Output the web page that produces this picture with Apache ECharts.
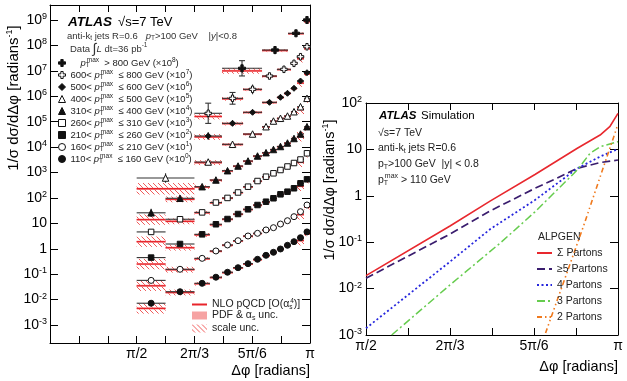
<!DOCTYPE html>
<html>
<head>
<meta charset="utf-8">
<script src="https://cdn.jsdelivr.net/npm/echarts@6.0.0/dist/echarts.min.js"></script>
<style>
html,body{margin:0;padding:0;background:#fff;}
#chart{width:627px;height:381px;}
</style>
</head>
<body>
<div id="chart"></div>
<script>
const FONT = '"Liberation Sans", Arial, Helvetica, sans-serif';

// ================= LEFT PANEL: ATLAS data vs NLO pQCD =================
// Δφ bin edges [radians]
const edgesFine = [1.5708, 1.8326, 2.0944, 2.234, 2.344, 2.444, 2.535, 2.625, 2.707, 2.779, 2.842, 2.906, 2.969, 3.024, 3.087, 3.1416];
const edges400  = [1.5708, 2.0944, 2.344, 2.535, 2.707, 2.779, 2.842, 2.906, 2.969, 3.024, 3.087, 3.1416];
const edges500  = [2.0944, 2.344, 2.535, 2.707, 2.842, 2.906, 2.969, 3.024, 3.087, 3.1416];
const edges600  = [2.0944, 2.344, 2.535, 2.707, 2.842, 2.969, 3.024, 3.087, 3.1416];
const edges800  = [2.344, 2.707, 2.942, 3.087, 3.1416];

// pT^max ranges [GeV] and plotting factors (legend)
const ptLow    = [800, 600, 500, 400, 310, 260, 210, 160, 110];
const ptHigh   = [null, 800, 600, 500, 400, 310, 260, 210, 160];
const scalePow = [8, 7, 6, 5, 4, 3, 2, 1, 0];

// measured 1/σ dσ/dΔφ, already multiplied by 10^scalePow
const data800 = [1.26e7, 6.6e7, 3.0e8, 1.0e9];
const data600 = [2.14e5, 8.3e5, 1.88e6, 6.27e6, 1.15e7, 1.98e7, 3.6e7, 8.9e7];
const data500 = [2.73e4, 8.63e4, 2.34e5, 5.78e5, 9.1e5, 1.31e6, 2.06e6, 3.98e6, 8.45e6];
const data400 = [608, 2590, 12900, 32700, 63500, 106000, 136000, 167000, 247000, 388000, 832000];
const data310 = [26, 97, 277, 508, 1180, 1800, 2840, 4470, 6030, 8050, 10570, 14500, 21800, 32700, 63500];
const data260 = [4.6, 14.5, 27, 66, 100, 164, 277, 463, 685, 931, 1256, 1726, 2368, 3250, 5700];
const data210 = [0.45, 1.54, 3.7, 9.2, 14.8, 23.3, 35.7, 52.7, 71, 97, 139, 176, 240, 377, 541];
const data160 = [0.057, 0.156, 0.42, 0.82, 1.41, 2.08, 3.18, 4.06, 5.5, 6.75, 9.4, 12.7, 18.3, 28.8, 52.7];
const data110 = [0.0072, 0.0204, 0.0437, 0.076, 0.119, 0.18, 0.259, 0.385, 0.553, 0.726, 0.98, 1.37, 1.9, 2.73, 4.6];

// relative data uncertainty (error bar)
const err800 = [1.0, 0.45, 0.15, 0.08];
const err600 = [1.5, 0.7, 0.55, 0.2, 0.12, 0.1, 0.08, 0.06];
const err500 = [0.45, 0.3, 0.2, 0.1, 0.08, 0.06, 0.05, 0.05, 0.05];
const err400 = [0.55, 0.15, 0.1, 0.08, 0.06, 0.05, 0.05, 0.05, 0.05, 0.05, 0.05];
const err310 = [0.45, 0.15, 0.1, 0.06, 0.05, 0.05, 0.05, 0.05, 0.05, 0.05, 0.05, 0.05, 0.05, 0.05, 0.05];
const errFine = [0.12, 0.06, 0.05, 0.04, 0.04, 0.04, 0.04, 0.04, 0.04, 0.04, 0.04, 0.04, 0.04, 0.04, 0.04];

// NLO pQCD O(αs^4) prediction, same factors
const nlo800 = [1.0e7, 6.3e7, 2.9e8, 8.6e8];
const nlo600 = [1.6e5, 7.9e5, 1.84e6, 6.1e6, 1.12e7, 1.94e7, 3.0e7, 7.8e7];
const nlo500 = [2.5e4, 8.4e4, 2.3e5, 5.65e5, 8.95e5, 1.29e6, 2.0e6, 3.3e6, 7.5e6];
const nlo400 = [230, 2450, 12600, 32000, 62000, 104000, 133000, 164000, 240000, 300000, 700000];
const nlo310 = [14, 88, 268, 495, 1150, 1760, 2780, 4380, 5900, 7900, 10400, 14200, 21300, 26000, 55000];
const nlo260 = [1.9, 12, 26, 64, 97, 160, 270, 452, 670, 910, 1230, 1690, 2310, 2550, 4900];
const nlo210 = [0.25, 1.1, 3.5, 8.8, 14.3, 22.6, 34.8, 51.5, 69, 95, 135, 171, 232, 290, 470];
const nlo160 = [0.035, 0.15, 0.4, 0.79, 1.37, 2.02, 3.1, 3.95, 5.35, 6.6, 9.1, 12.3, 17.6, 22, 44];
const nlo110 = [0.0045, 0.019, 0.042, 0.073, 0.115, 0.175, 0.25, 0.37, 0.53, 0.71, 0.95, 1.32, 1.8, 2.1, 3.9];

// relative scale uncertainty (hatched) and PDF & αs uncertainty (solid)
const scale800 = [0.3, 0.15, 0.12, 0.2];
const scale600 = [0.3, 0.18, 0.15, 0.12, 0.1, 0.12, 0.4, 0.2];
const scale500 = [0.3, 0.18, 0.15, 0.12, 0.1, 0.1, 0.12, 0.4, 0.2];
const scale400 = [0.7, 0.25, 0.15, 0.12, 0.1, 0.1, 0.1, 0.1, 0.12, 0.5, 0.25];
const scaleFine = [0.6, 0.3, 0.18, 0.14, 0.12, 0.1, 0.1, 0.1, 0.1, 0.1, 0.1, 0.12, 0.2, 0.55, 0.25];
const pdfUnc = [0.1, 0.1, 0.1, 0.1, 0.1, 0.1, 0.1, 0.1, 0.1];

// axis tick labels
const xTickSteps = [6, 8, 10, 12];            // in units of π/12
const xTickText  = ['π/2', '2π/3', '5π/6', 'π'];

// ================= RIGHT PANEL: ALPGEN simulation =================
const dphiSum = [1.5708, 2.0944, 2.344, 2.624, 2.888, 3.03, 3.092, 3.1416];
const valSum  = [0.019, 0.224, 0.77, 2.88, 10.6, 20.4, 31.5, 60];
const dphiGe5 = [1.5708, 2.0944, 2.344, 2.624, 2.76, 2.888, 3.03, 3.1416];
const valGe5  = [0.0167, 0.15, 0.47, 1.45, 2.38, 3.92, 5.2, 5.9];
const dphi4   = [1.5708, 2.0944, 2.344, 2.624, 2.888, 3.03, 3.1416];
const val4    = [0.0014, 0.038, 0.19, 0.81, 3.9, 7.0, 10.2];
const dphi3   = [1.731, 2.0944, 2.406, 2.624, 2.888, 2.967, 3.03, 3.1416];
const val3    = [0.001, 0.012, 0.095, 0.45, 3.6, 8.2, 11.4, 14.7];
const dphi2   = [2.69, 2.926, 3.1416];
const val2    = [0.0011, 0.22, 35];
const partonNames = ['Σ Partons', '≥5 Partons', '4 Partons', '3 Partons', '2 Partons'];

// ================= build =================
const P12 = Math.PI / 12;
const groups = [
  {e: edges800, v: data800, n: nlo800, s: scale800, r: err800},
  {e: edges600, v: data600, n: nlo600, s: scale600, r: err600},
  {e: edges500, v: data500, n: nlo500, s: scale500, r: err500},
  {e: edges400, v: data400, n: nlo400, s: scale400, r: err400},
  {e: edgesFine, v: data310, n: nlo310, s: scaleFine, r: err310},
  {e: edgesFine, v: data260, n: nlo260, s: scaleFine, r: errFine},
  {e: edgesFine, v: data210, n: nlo210, s: scaleFine, r: errFine},
  {e: edgesFine, v: data160, n: nlo160, s: scaleFine, r: errFine},
  {e: edgesFine, v: data110, n: nlo110, s: scaleFine, r: errFine}
];
const scaleRows = [], pdfRows = [], nloRows = [], barRows = [];
const markerData = groups.map((g, gi) => {
  const pts = [];
  for (let i = 0; i < g.v.length; i++) {
    const x0 = g.e[i], x1 = g.e[i + 1], n = g.n[i], v = g.v[i];
    scaleRows.push([x0, x1, n / (1 + g.s[i]), n * (1 + g.s[i])]);
    pdfRows.push([x0, x1, n / (1 + pdfUnc[gi]), n * (1 + pdfUnc[gi])]);
    nloRows.push([x0, x1, n]);
    barRows.push([x0, x1, v, v / (1 + g.r[i]), v * (1 + g.r[i])]);
    pts.push([(x0 + x1) / 2, v]);
  }
  return pts;
});
const groupNames = ptLow.map(lo => 'g' + lo);
const legendText = ptLow.map((lo, i) => {
  const hi = ptHigh[i];
  if (hi === null) return '{pad|}{i|p}{sub|T}{sup|max}{t|  > ' + lo + ' GeV (×10}{sup|' + scalePow[i] + '}{t|)}';
  return '{t|' + lo + '< }{i|p}{sub|T}{sup|max}{t|  ≤ ' + hi + ' GeV (×10}{sup|' + scalePow[i] + '}{t|)}';
});

// hatch pattern for scale uncertainty
function makeHatch() {
  const c = document.createElement('canvas');
  c.width = 5; c.height = 5;
  const ctx = c.getContext('2d');
  ctx.strokeStyle = '#f05a5a'; ctx.lineWidth = 1;
  ctx.beginPath();
  ctx.moveTo(-1, -1); ctx.lineTo(6, 6);
  ctx.moveTo(-1, 4); ctx.lineTo(1, 6);
  ctx.moveTo(4, -1); ctx.lineTo(6, 1);
  ctx.stroke();
  return c;
}
const hatch = {image: makeHatch(), repeat: 'repeat'};
const RED = '#e8242b', PINK = '#f6a3a3';

function rectRender(fill) {
  return function (params, api) {
    const a = api.coord([api.value(0), api.value(3)]);
    const b = api.coord([api.value(1), api.value(2)]);
    return {type: 'rect', shape: {x: a[0], y: a[1], width: b[0] - a[0], height: b[1] - a[1]}, style: {fill: fill}};
  };
}
function nloRender(params, api) {
  const a = api.coord([api.value(0), api.value(2)]);
  const b = api.coord([api.value(1), api.value(2)]);
  return {type: 'line', shape: {x1: a[0], y1: a[1], x2: b[0], y2: b[1]}, style: {stroke: RED, lineWidth: 1.3}};
}
function barRender(params, api) {
  const x0 = api.value(0), x1 = api.value(1), v = api.value(2);
  const a = api.coord([x0, v]), b = api.coord([x1, v]);
  const xc = (a[0] + b[0]) / 2;
  const lo = api.coord([(x0 + x1) / 2, api.value(3)]);
  const hi = api.coord([(x0 + x1) / 2, api.value(4)]);
  const st = {stroke: '#333', lineWidth: 1.1};
  const ch = [
    {type: 'line', shape: {x1: a[0], y1: a[1], x2: b[0], y2: b[1]}, style: st},
    {type: 'line', shape: {x1: xc, y1: lo[1], x2: xc, y2: hi[1]}, style: st}
  ];
  if (lo[1] - hi[1] > 10) {
    ch.push({type: 'line', shape: {x1: xc - 3, y1: lo[1], x2: xc + 3, y2: lo[1]}, style: st});
    ch.push({type: 'line', shape: {x1: xc - 3, y1: hi[1], x2: xc + 3, y2: hi[1]}, style: st});
  }
  return {type: 'group', children: ch};
}

const PLUS = 'path://M-1,-3L1,-3L1,-1L3,-1L3,1L1,1L1,3L-1,3L-1,1L-3,1L-3,-1L-1,-1Z';
const markerStyle = [
  {symbol: PLUS, size: 7, fill: '#111'},
  {symbol: PLUS, size: 6.5, fill: '#fff'},
  {symbol: 'diamond', size: 6, fill: '#111'},
  {symbol: 'triangle', size: 6.5, fill: '#fff'},
  {symbol: 'triangle', size: 6.5, fill: '#111'},
  {symbol: 'rect', size: 5.5, fill: '#fff'},
  {symbol: 'rect', size: 5.5, fill: '#111'},
  {symbol: 'circle', size: 6, fill: '#fff'},
  {symbol: 'circle', size: 6, fill: '#111'}
];

function xLabel(v) {
  const k = Math.round(v / P12);
  if (Math.abs(v - k * P12) > 1e-6) return '';
  const j = xTickSteps.indexOf(k);
  return j < 0 ? '' : xTickText[j];
}
function decadeLabel(n) {
  if (n === 0) return '{b|1}';
  if (n === 1) return '{b|10}';
  return '{b|10}{s|' + n + '}';
}
const axisRich = {
  b: {fontSize: 14, fontFamily: FONT, color: '#000', lineHeight: 16},
  s: {fontSize: 9, fontFamily: FONT, color: '#000', verticalAlign: 'top', lineHeight: 9}
};
const LINE = {show: true, onZero: false, lineStyle: {color: '#000', width: 1}};

const leftYMin = 1.96e-4, leftYMax = 3.9e9;

function xAxisCfg(grid, min, pos, labels) {
  return {
    type: 'value', gridIndex: grid, min: min, max: Math.PI, interval: P12, position: pos,
    axisLine: LINE, splitLine: {show: false},
    axisTick: {show: true, inside: true, length: 7, lineStyle: {color: '#000'}},
    axisLabel: {show: labels, margin: 4, formatter: xLabel, fontSize: 14, fontFamily: FONT, color: '#000',
      showMinLabel: true, showMaxLabel: true}
  };
}

const series = [
  {type: 'custom', name: 'scale unc.', xAxisIndex: 0, yAxisIndex: 0, renderItem: rectRender(hatch), data: scaleRows, encode: {x: [0, 1], y: [2, 3]}, z: 2, silent: true},
  {type: 'custom', name: 'PDF & αs unc.', xAxisIndex: 0, yAxisIndex: 0, renderItem: rectRender(PINK), data: pdfRows, encode: {x: [0, 1], y: [2, 3]}, z: 2, silent: true},
  {type: 'custom', name: 'NLO pQCD', xAxisIndex: 0, yAxisIndex: 0, renderItem: nloRender, data: nloRows, encode: {x: [0, 1], y: [2]}, z: 3, silent: true},
  {type: 'custom', name: 'data bars', xAxisIndex: 0, yAxisIndex: 0, renderItem: barRender, data: barRows, encode: {x: [0, 1], y: [2, 3, 4]}, z: 4, silent: true}
];
groupNames.forEach((nm, i) => {
  const m = markerStyle[i];
  series.push({
    type: 'scatter', name: nm, xAxisIndex: 0, yAxisIndex: 0, data: markerData[i],
    symbol: m.symbol, symbolSize: m.size, z: 5, silent: true,
    itemStyle: {color: m.fill, borderColor: '#111', borderWidth: 1, opacity: 1}
  });
});
const partonStyles = [
  {color: '#e8282e', type: 'solid', width: 1.6},
  {color: '#3a1d6e', type: [8, 4], width: 1.7},
  {color: '#2626dd', type: [2, 2.5], width: 1.8},
  {color: '#66cc4e', type: [8, 3, 2, 3], width: 1.5},
  {color: '#f07a1e', type: [5, 3, 1.5, 3, 1.5, 3], width: 1.6}
];
const partonX = [dphiSum, dphiGe5, dphi4, dphi3, dphi2];
const partonY = [valSum, valGe5, val4, val3, val2];
partonNames.forEach((nm, i) => {
  series.push({
    type: 'line', name: nm, xAxisIndex: 2, yAxisIndex: 3, symbol: 'none', showSymbol: false,
    data: partonX[i].map((x, j) => [x, partonY[i][j]]), clip: true, z: 3 + (i === 0 ? 2 : 0),
    lineStyle: partonStyles[i], itemStyle: {color: partonStyles[i].color}
  });
});

const legRich = {
  t: {fontSize: 9.5, lineHeight: 12, fontFamily: FONT, color: '#222'},
  i: {fontSize: 9.5, lineHeight: 12, fontFamily: FONT, fontStyle: 'italic', color: '#222'},
  sup: {fontSize: 6.5, lineHeight: 7, fontFamily: FONT, verticalAlign: 'top', color: '#222'},
  sub: {fontSize: 6.5, lineHeight: 7, fontFamily: FONT, verticalAlign: 'bottom', width: 1, color: '#222'},
  sub2: {fontSize: 7, lineHeight: 7, fontFamily: FONT, verticalAlign: 'bottom', color: '#222'},
  pad: {width: 10}
};

function nloLegend(name, top, icon, h, color, text) {
  return {
    orient: 'vertical', left: 192, top: top, itemWidth: 15, itemHeight: h, padding: 0, selectedMode: false,
    data: [{name: name, icon: icon, itemStyle: {color: color, borderWidth: 0}}],
    formatter: () => text,
    textStyle: {fontFamily: FONT, fontSize: 10.5, color: '#222', rich: Object.assign({}, legRich, {
      t: {fontSize: 10.5, lineHeight: 13, fontFamily: FONT, color: '#222'}})}
  };
}

const option = {
  animation: false,
  backgroundColor: '#fff',
  textStyle: {fontFamily: FONT},
  grid: [
    {left: 50, top: 5, width: 260, height: 338},
    {left: 366, top: 103, width: 252, height: 232}
  ],
  xAxis: [
    xAxisCfg(0, Math.PI / 4, 'bottom', true),
    xAxisCfg(0, Math.PI / 4, 'top', false),
    xAxisCfg(1, Math.PI / 2, 'bottom', true),
    xAxisCfg(1, Math.PI / 2, 'top', false)
  ],
  yAxis: [
    {type: 'log', gridIndex: 0, min: leftYMin, max: leftYMax, show: false},
    {type: 'value', gridIndex: 0, position: 'left', min: Math.log10(leftYMin), max: Math.log10(leftYMax),
      minInterval: 1, maxInterval: 1, splitNumber: 13, axisLine: LINE, splitLine: {show: false},
      axisTick: {inside: true, length: 8, lineStyle: {color: '#000'}},
      axisLabel: {margin: 3, showMinLabel: false, showMaxLabel: false, rich: axisRich,
        formatter: v => { const n = Math.round(v); return Math.abs(v - n) > 1e-6 ? '' : decadeLabel(n); }}},
    {type: 'value', gridIndex: 0, position: 'right', min: Math.log10(leftYMin), max: Math.log10(leftYMax),
      minInterval: 1, maxInterval: 1, splitNumber: 13, axisLine: LINE, splitLine: {show: false},
      axisTick: {inside: true, length: 8, lineStyle: {color: '#000'}}, axisLabel: {show: false}},
    {type: 'log', gridIndex: 1, position: 'left', min: 1e-3, max: 1e2, logBase: 10, axisLine: LINE, splitLine: {show: false},
      axisTick: {inside: true, length: 8, lineStyle: {color: '#000'}},
      axisLabel: {margin: 4, rich: axisRich, formatter: v => decadeLabel(Math.round(Math.log10(v)))}},
    {type: 'log', gridIndex: 1, position: 'right', min: 1e-3, max: 1e2, logBase: 10, axisLine: LINE, splitLine: {show: false},
      axisTick: {inside: true, length: 8, lineStyle: {color: '#000'}}, axisLabel: {show: false}}
  ],
  legend: [
    {
      orient: 'vertical', left: 58, top: 57, itemWidth: 7, itemHeight: 7, itemGap: 0, padding: 0,
      selectedMode: false, data: groupNames,
      itemStyle: {borderWidth: 1},
      formatter: name => legendText[groupNames.indexOf(name)],
      textStyle: {fontFamily: FONT, fontSize: 9.5, color: '#222', rich: legRich}
    },
    nloLegend('NLO pQCD', 298, 'rect', 2, RED, '{t|NLO pQCD [O(α}{sub|s}{sup|4}{t|)]}'),
    nloLegend('PDF & αs unc.', 310, 'rect', 8, PINK, '{t|PDF & α}{sub2|s}{t| unc.}'),
    nloLegend('scale unc.', 323, 'rect', 8, hatch, '{t|scale unc.}'),
    {
      orient: 'vertical', left: 536, top: 245, itemWidth: 15, itemHeight: 8, itemGap: 0, padding: 0,
      selectedMode: false, data: partonNames, itemStyle: {opacity: 0},
      textStyle: {fontFamily: FONT, fontSize: 10.5, color: '#222', lineHeight: 16}
    }
  ],
  graphic: [
    // left panel labels
    {type: 'text', x: 68, y: 22, style: {text: 'ATLAS', fontFamily: FONT, fontSize: 13.5, fontWeight: 'bold', fontStyle: 'italic', fill: '#000', verticalAlign: 'middle'}},
    {type: 'text', x: 118, y: 22, style: {text: '√s=7 TeV', fontFamily: FONT, fontSize: 13, fill: '#000', verticalAlign: 'middle'}},
    {type: 'text', x: 67, y: 36, style: {text: '{t|anti-k}{sb|t}{t| jets R=0.6   }{i|p}{sb|T}{t|>100 GeV    |}{i|y}{t||<0.8}', verticalAlign: 'middle',
      rich: {t: {fontFamily: FONT, fontSize: 9.5, fill: '#333', lineHeight: 12}, i: {fontFamily: FONT, fontSize: 9.5, fontStyle: 'italic', fill: '#333', lineHeight: 12},
             sb: {fontFamily: FONT, fontSize: 6.5, fill: '#333', verticalAlign: 'bottom', lineHeight: 7}}}},
    {type: 'text', x: 70, y: 49, style: {text: '{t|Data }{big|∫}{i|L}{t| dt=36 pb}{sp|-1}', verticalAlign: 'middle',
      rich: {t: {fontFamily: FONT, fontSize: 9.5, fill: '#333', lineHeight: 14}, i: {fontFamily: FONT, fontSize: 9.5, fontStyle: 'italic', fill: '#333', lineHeight: 14},
             big: {fontFamily: FONT, fontSize: 14, fill: '#333', lineHeight: 14}, sp: {fontFamily: FONT, fontSize: 6.5, fill: '#333', verticalAlign: 'top', lineHeight: 8}}}},
    {type: 'text', x: 14, y: 98, rotation: Math.PI / 2, style: {text: '{t|1/σ dσ/dΔφ [radians}{s|-1}{t|]}', align: 'center', verticalAlign: 'middle',
      rich: {t: {fontFamily: FONT, fontSize: 15, fill: '#000', lineHeight: 18}, s: {fontFamily: FONT, fontSize: 9, fill: '#000', verticalAlign: 'top', lineHeight: 10}}}},
    {type: 'text', x: 310, y: 371, style: {text: 'Δφ [radians]', fontFamily: FONT, fontSize: 14.5, fill: '#000', align: 'right', verticalAlign: 'middle'}},
    // right panel labels
    {type: 'text', x: 379, y: 116, style: {text: 'ATLAS', fontFamily: FONT, fontSize: 11.5, fontWeight: 'bold', fontStyle: 'italic', fill: '#000', verticalAlign: 'middle'}},
    {type: 'text', x: 421, y: 116, style: {text: 'Simulation', fontFamily: FONT, fontSize: 11.5, fill: '#000', verticalAlign: 'middle'}},
    {type: 'text', x: 378, y: 133, style: {text: '√s=7 TeV', fontFamily: FONT, fontSize: 10.5, fill: '#222', verticalAlign: 'middle'}},
    {type: 'text', x: 378, y: 148, style: {text: '{t|anti-k}{sb|t}{t| jets R=0.6}', verticalAlign: 'middle',
      rich: {t: {fontFamily: FONT, fontSize: 10.5, fill: '#222', lineHeight: 13}, sb: {fontFamily: FONT, fontSize: 7, fill: '#222', verticalAlign: 'bottom', lineHeight: 7}}}},
    {type: 'text', x: 378, y: 164, style: {text: '{t|p}{sb|T}{t|>100 GeV  |y| < 0.8}', verticalAlign: 'middle',
      rich: {t: {fontFamily: FONT, fontSize: 10.5, fill: '#222', lineHeight: 13}, sb: {fontFamily: FONT, fontSize: 7, fill: '#222', verticalAlign: 'bottom', lineHeight: 7}}}},
    {type: 'text', x: 378, y: 180, style: {text: '{t|p}{sb|T}{sp|max}{t| > 110 GeV}', verticalAlign: 'middle',
      rich: {t: {fontFamily: FONT, fontSize: 10.5, fill: '#222', lineHeight: 14}, sb: {fontFamily: FONT, fontSize: 7, fill: '#222', verticalAlign: 'bottom', lineHeight: 7, width: 1},
             sp: {fontFamily: FONT, fontSize: 7, fill: '#222', verticalAlign: 'top', lineHeight: 7}}}},
    {type: 'text', x: 538, y: 237, style: {text: 'ALPGEN', fontFamily: FONT, fontSize: 10.5, fill: '#222', verticalAlign: 'middle'}},
    {type: 'text', x: 330, y: 190, rotation: Math.PI / 2, style: {text: '{t|1/σ dσ/dΔφ [radians}{s|-1}{t|]}', align: 'center', verticalAlign: 'middle',
      rich: {t: {fontFamily: FONT, fontSize: 14.5, fill: '#000', lineHeight: 18}, s: {fontFamily: FONT, fontSize: 9, fill: '#000', verticalAlign: 'top', lineHeight: 10}}}},
    {type: 'text', x: 618, y: 367, style: {text: 'Δφ [radians]', fontFamily: FONT, fontSize: 14.5, fill: '#000', align: 'right', verticalAlign: 'middle'}}
  ],
  series: series
};

const chart = echarts.init(document.getElementById('chart'), null, {renderer: 'canvas'});
chart.setOption(option);
</script>
</body>
</html>
